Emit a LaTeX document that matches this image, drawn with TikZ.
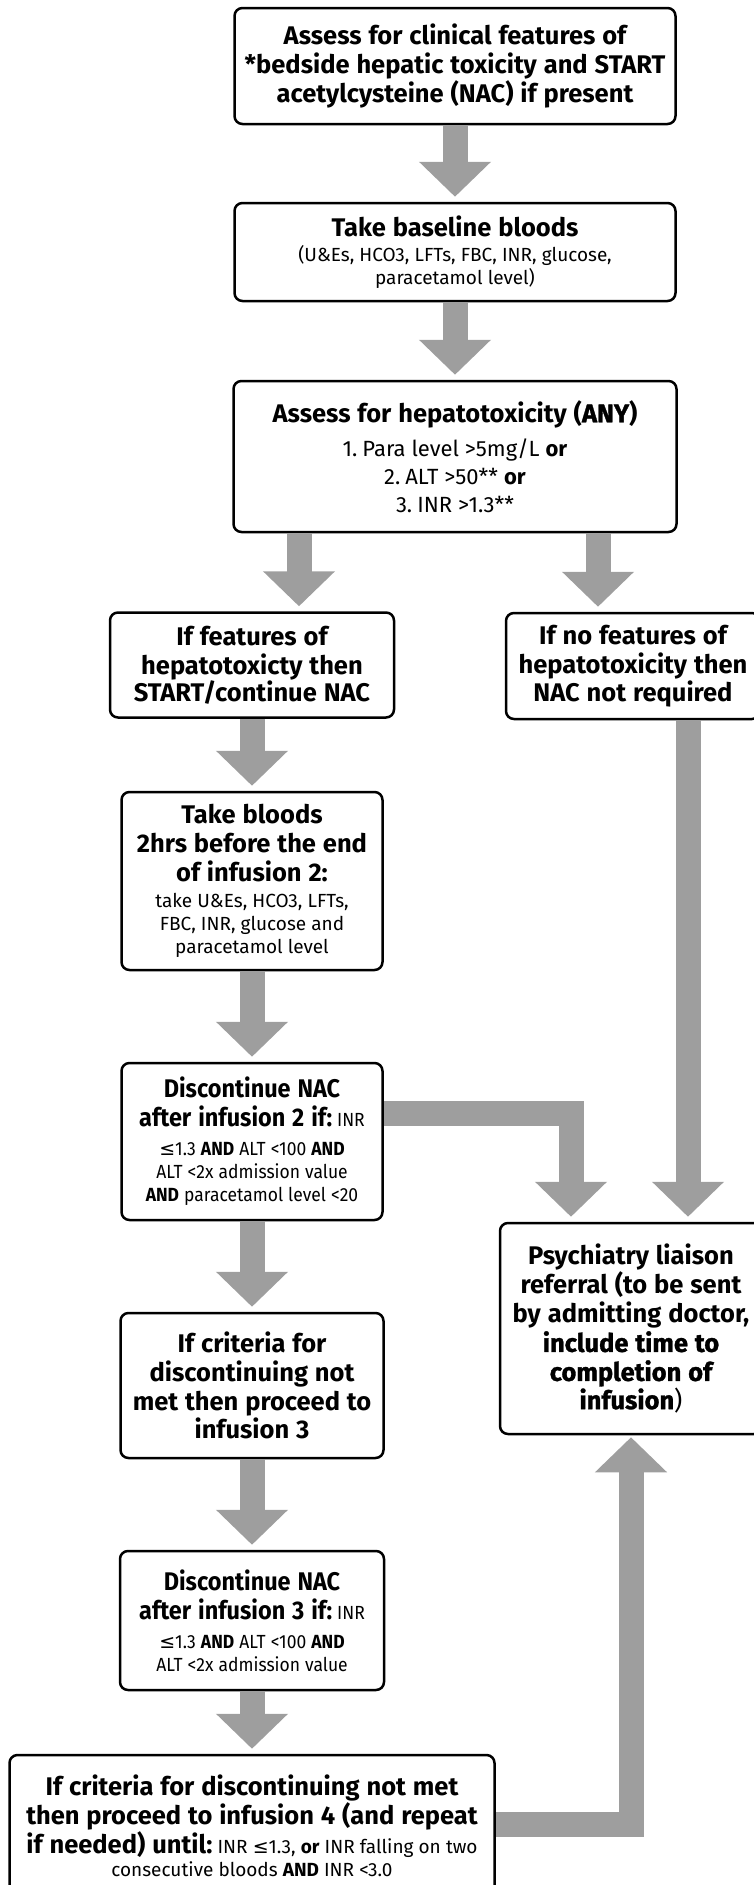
\documentclass[tikz,border=0pt]{standalone}
\usepackage{fontspec}
\setmainfont{Fira Sans}
\newfontfamily\condfont{Fira Sans}[FakeStretch=0.92]
\newfontfamily\heavyfont{Fira Sans}[BoldFeatures={FakeBold=1.2}]
\newfontfamily\symfont{DejaVu Sans}
\usetikzlibrary{arrows.meta,positioning}
\definecolor{arrowgray}{RGB}{158,158,158}
\newcommand{\hd}{\fontsize{25.5}{29}\selectfont\bfseries\spaceskip=0.27em\relax}
\newcommand{\sm}{\fontsize{19}{23}\selectfont\mdseries\spaceskip=0.27em\relax}
\newcommand{\md}{\fontsize{22}{28}\selectfont\mdseries\spaceskip=0.27em\relax}
\newcommand{\heavy}[1]{{\heavyfont\bfseries #1}}
\newcommand{\lteq}{{\symfont ≤}}

\begin{document}
\begin{tikzpicture}[x=1pt,y=-1pt,
                    box/.style={draw=black,line width=2.5pt,rounded corners=8pt,fill=white,
                                align=center,inner xsep=4pt,inner ysep=2pt},
                    narrow/.style={box,font=\condfont},
                    flow/.style={draw=arrowgray,line width=25pt,line join=miter,
                                 -{Triangle[width=70pt,length=35pt]},shorten >=5pt}]
  \useasboundingbox (0,0) rectangle (753,1885);

  \node[box,text width=433pt,minimum height=116pt] (assess)   at (455,66)
        {\hd Assess for clinical features of\\{*}bedside hepatic toxicity and START\\ acetylcysteine (NAC) if present};
  \node[box,text width=433pt,minimum height=98pt]  (baseline) at (455,252)
        {{\hd Take baseline bloods\par}\vspace{2pt}{\sm (U\&Es, HCO3, LFTs, FBC, INR, glucose,\\ paracetamol level)\par}};
  \node[box,text width=435pt,minimum height=151pt] (hepato)   at (455,456.5)
        {{\hd Assess for hepatotoxicity (\heavy{ANY})\par}\vspace{6pt}{\md 1. Para level >5mg/L \textbf{or}\\ 2. ALT >50** \textbf{or}\\ 3. INR >1.3**\par}};
  \node[box,text width=276pt,minimum height=105pt] (features) at (252,665)
        {\hd If features of\\ hepatotoxicty then\\ START/continue NAC};
  \node[box,text width=246pt,minimum height=106pt] (nofeat)   at (633,666)
        {\hd If no features of\\ hepatotoxicity then\\ NAC not required};
  \node[box,text width=253pt,minimum height=178pt] (bloods2)  at (252,881)
        {{\hd Take bloods\\ 2hrs before the end\\ of infusion 2:\par}\vspace{3pt}{\sm take U\&Es, HCO3, LFTs,\\ FBC, INR, glucose and\\ paracetamol level\par}};
  \node[narrow,text width=253pt,minimum height=157pt] (stop2) at (252,1141.5)
        {{\hd Discontinue NAC\\ after infusion 2 if: {\sm INR}\par}\vspace{6pt}{\sm \lteq1.3 \textbf{AND} ALT <100 \textbf{AND}\\ ALT <2x admission value\\ \textbf{AND} paracetamol level <20\par}};
  \node[box,text width=254pt,minimum height=211pt] (psych)    at (631,1328.5)
        {\hd Psychiatry liaison\\ referral (to be sent\\ by admitting doctor,\\ \heavy{include time to}\\ \heavy{completion of}\\ \heavy{infusion}{\mdseries )}};
  \node[box,text width=255pt,minimum height=145pt] (proceed3) at (252,1385.5)
        {\hd If criteria for\\ discontinuing not\\ met then proceed to\\ infusion 3};
  \node[narrow,text width=256pt,minimum height=139pt] (stop3) at (252,1620.5)
        {{\hd Discontinue NAC\\ after infusion 3 if: {\sm INR}\par}\vspace{6pt}{\sm \lteq1.3 \textbf{AND} ALT <100 \textbf{AND}\\ ALT <2x admission value\par}};
  \node[box,text width=477pt,minimum height=142pt] (proceed4) at (252,1826)
        {{\hd If criteria for discontinuing not met\\ then proceed to infusion 4 (and repeat\\ if needed) until: {\sm INR \lteq1.3, \textbf{or} INR falling on two}\par}{\sm consecutive bloods \textbf{AND} INR <3.0\par}};

  \draw[flow] (assess) -- (baseline);
  \draw[flow] (baseline) -- (hepato);
  \draw[flow] ([xshift=47pt]features.north |- hepato.south) -- ([xshift=47pt]features.north);
  \draw[flow] ([xshift=-35pt]nofeat.north |- hepato.south) -- ([xshift=-35pt]nofeat.north);
  \draw[flow] (features) -- (bloods2);
  \draw[flow] (bloods2) -- (stop2);
  \draw[flow] (stop2) -- (proceed3);
  \draw[flow] (proceed3) -- (stop3);
  \draw[flow] (stop3) -- (proceed4);
  \draw[flow] ([xshift=57pt]psych.north |- nofeat.south) -- ([xshift=57pt]psych.north);
  \draw[flow] ([yshift=28pt]stop2.east) -| ([xshift=-60pt]psych.north);
  \draw[flow,shorten >=2pt] ([yshift=2pt]proceed4.east) -| (psych.south);
\end{tikzpicture}
\end{document}
